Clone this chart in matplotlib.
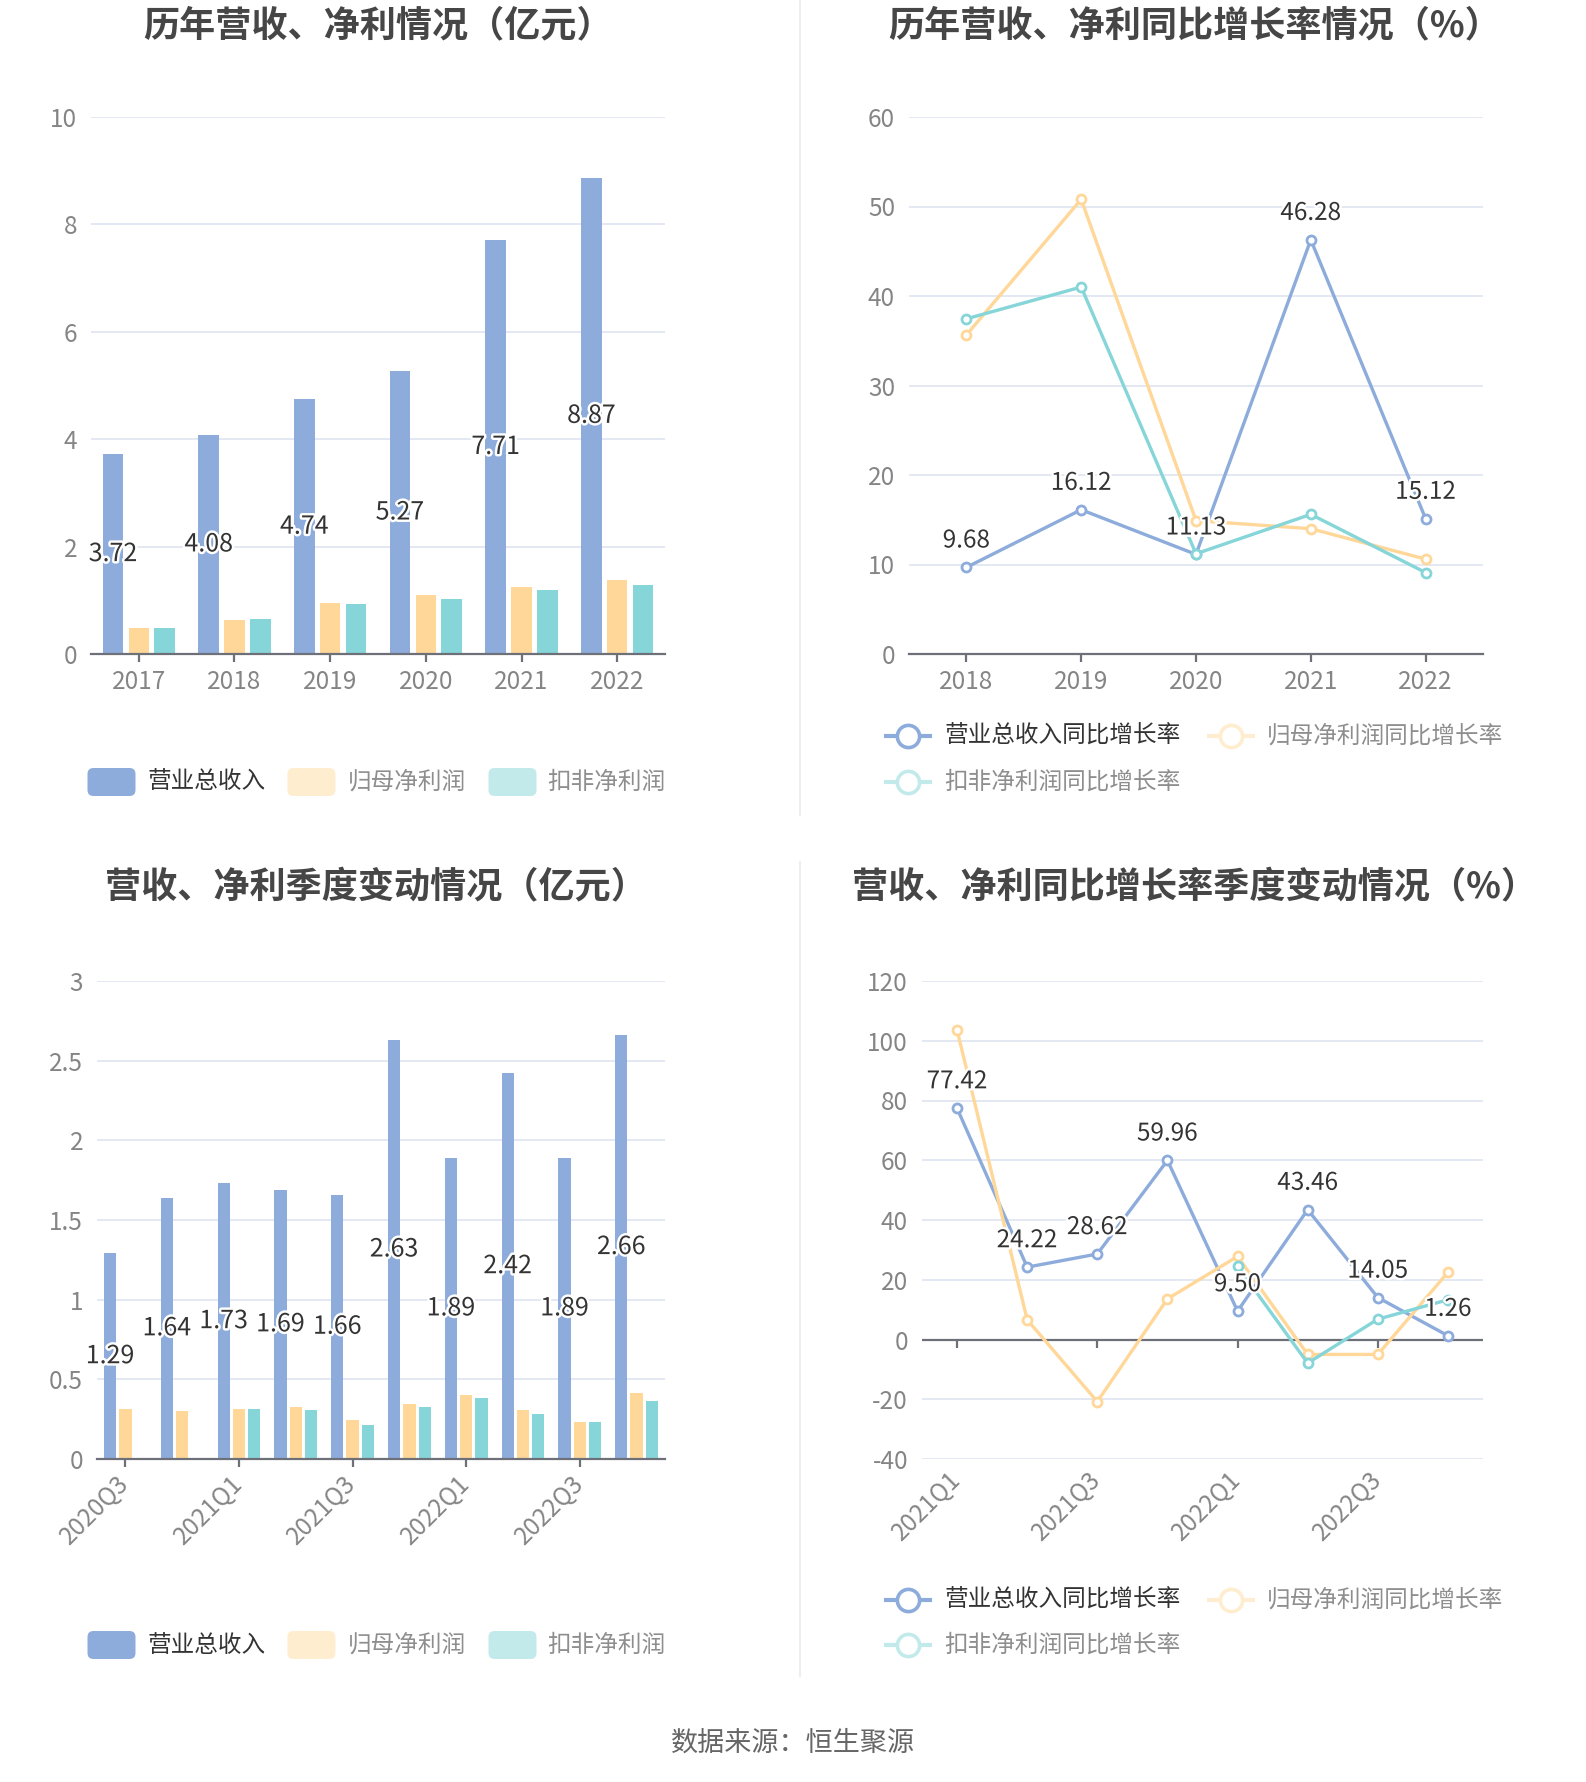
import matplotlib
matplotlib.use('Agg')
import matplotlib.pyplot as plt
import numpy as np
from matplotlib.patches import FancyBboxPatch
import matplotlib.patheffects as pe

plt.rcParams['font.family'] = ['Noto Sans CJK SC', 'DejaVu Sans']
plt.rcParams['axes.unicode_minus'] = False

# ---------------- data ----------------
years = ['2017', '2018', '2019', '2020', '2021', '2022']
rev = [3.72, 4.08, 4.74, 5.27, 7.71, 8.87]
parent_np = [0.48, 0.635, 0.955, 1.09, 1.245, 1.375]
deduct_np = [0.48, 0.65, 0.925, 1.02, 1.185, 1.29]

yoy_years = ['2018', '2019', '2020', '2021', '2022']
rev_yoy = [9.68, 16.12, 11.13, 46.28, 15.12]
parent_yoy = [35.65, 50.8, 14.9, 14.0, 10.6]
deduct_yoy = [37.45, 41.0, 11.2, 15.6, 9.1]

quarters = ['2020Q3', '2020Q4', '2021Q1', '2021Q2', '2021Q3',
            '2021Q4', '2022Q1', '2022Q2', '2022Q3', '2022Q4']
q_rev = [1.29, 1.64, 1.73, 1.69, 1.66, 2.63, 1.89, 2.42, 1.89, 2.66]
q_parent = [0.314, 0.303, 0.314, 0.324, 0.245, 0.343, 0.404, 0.305, 0.234, 0.414]
q_deduct = [np.nan, np.nan, 0.314, 0.305, 0.213, 0.324, 0.383, 0.285, 0.234, 0.364]

yoy_quarters = ['2021Q1', '2021Q2', '2021Q3', '2021Q4',
                '2022Q1', '2022Q2', '2022Q3', '2022Q4']
q_rev_yoy = [77.42, 24.22, 28.62, 59.96, 9.50, 43.46, 14.05, 1.26]
q_parent_yoy = [103.6, 6.6, -20.8, 13.6, 27.8, -5.0, -5.0, 22.5]
q_deduct_yoy = [np.nan, np.nan, np.nan, np.nan, 24.5, -7.9, 6.8, 13.3]

bar_names = ['营业总收入', '归母净利润', '扣非净利润']
line_names = ['营业总收入同比增长率', '归母净利润同比增长率', '扣非净利润同比增长率']

titles = ['历年营收、净利情况（亿元）', '历年营收、净利同比增长率情况（%）',
          '营收、净利季度变动情况（亿元）', '营收、净利同比增长率季度变动情况（%）']
source = '数据来源：恒生聚源'

# ---------------- style ----------------
BLUE = '#8DACDB'
ORANGE = '#FFD799'
TEAL = '#86D5D8'
ORANGE_L = '#FFEDD0'
TEAL_L = '#C3EAEB'
GRID = '#E0E6F1'
AXIS = '#6E7079'
TICK_C = '#858585'
LABEL_C = '#333333'
TICK_FS = 17.5

W, H = 1586, 1782
fig = plt.figure(figsize=(W / 100, H / 100), dpi=100)
fig.patch.set_facecolor('white')


def px_rect(x0, y0, x1, y1):
    return [x0 / W, 1 - y1 / H, (x1 - x0) / W, (y1 - y0) / H]


halo = [pe.withStroke(linewidth=3.5, foreground='white')]


def style_axis(ax, ylim, yticks, fmt):
    ax.set_ylim(*ylim)
    ax.set_yticks(yticks)
    ax.set_yticklabels([fmt(v) for v in yticks])
    for s in ['left', 'top', 'right']:
        ax.spines[s].set_visible(False)
    ax.spines['bottom'].set_color(AXIS)
    ax.spines['bottom'].set_linewidth(1.6)
    ax.yaxis.grid(True, color=GRID, lw=1.3)
    ax.set_axisbelow(True)
    ax.tick_params(axis='y', length=0, pad=10, labelsize=TICK_FS, labelcolor=TICK_C)
    ax.tick_params(axis='x', length=6, width=1.6, color=AXIS, pad=5,
                   labelsize=TICK_FS, labelcolor=TICK_C)


def bar_chart(ax, cats, s1, s2, s3, ylim, yticks, fmt, label_every, rotate):
    x = np.arange(len(cats))
    w, step = 0.216, 0.27
    ax.bar(x - step, s1, w, color=BLUE, zorder=2)
    ax.bar(x, s2, w, color=ORANGE, zorder=2)
    ax.bar(x + step, s3, w, color=TEAL, zorder=2)
    for xi, v in zip(x, s1):
        ax.text(xi - step, v / 2, f'{v:.2f}', ha='center', va='center',
                fontsize=18, color=LABEL_C, path_effects=halo, zorder=5)
    ax.set_xlim(-0.5, len(cats) - 0.5)
    style_axis(ax, ylim, yticks, fmt)
    tick_idx = x[::label_every]
    ax.set_xticks(tick_idx)
    if rotate:
        ax.set_xticklabels([cats[i] for i in tick_idx], rotation=45,
                           ha='right', va='center', rotation_mode='anchor')
        ax.tick_params(axis='x', pad=9)
    else:
        ax.set_xticklabels([cats[i] for i in tick_idx])


def line_chart(ax, cats, s1, s2, s3, ylim, yticks, fmt, label_every, rotate, zero_axis):
    x = np.arange(len(cats))
    for s, c in [(s1, BLUE), (s2, ORANGE), (s3, TEAL)]:
        ax.plot(x, s, color=c, lw=2.4, marker='o', markersize=6.5,
                markerfacecolor='white', markeredgecolor=c, markeredgewidth=2,
                zorder=3)
    for xi, v in zip(x, s1):
        ax.annotate(f'{v:.2f}', (xi, v), xytext=(0, 10), textcoords='offset points',
                    ha='center', va='bottom', fontsize=17.5, color=LABEL_C,
                    path_effects=halo, zorder=6)
    ax.set_xlim(-0.5, len(cats) - 0.5)
    style_axis(ax, ylim, yticks, fmt)
    tick_idx = x[::label_every]
    ax.set_xticks(tick_idx)
    if rotate:
        ax.set_xticklabels([cats[i] for i in tick_idx], rotation=45,
                           ha='right', va='center', rotation_mode='anchor')
    else:
        ax.set_xticklabels([cats[i] for i in tick_idx])
    if zero_axis:
        ax.spines['bottom'].set_visible(False)
        ax.tick_params(axis='x', length=0, pad=12)
        ax.axhline(0, color=AXIS, lw=1.6, zorder=2)
        frac = (0 - ylim[0]) / (ylim[1] - ylim[0])
        sec = ax.secondary_xaxis(frac)
        sec.set_xticks(tick_idx)
        sec.set_xticklabels([''] * len(tick_idx))
        sec.spines['bottom'].set_visible(False)
        sec.tick_params(axis='x', length=6, width=1.6, color=AXIS)


fmt_int = lambda v: f'{v:g}'

ax1 = fig.add_axes(px_rect(91, 117, 665, 654))
bar_chart(ax1, years, rev, parent_np, deduct_np, (0, 10), [0, 2, 4, 6, 8, 10],
          fmt_int, 1, False)

ax2 = fig.add_axes(px_rect(909, 117, 1483, 654))
line_chart(ax2, yoy_years, rev_yoy, parent_yoy, deduct_yoy, (0, 60),
           [0, 10, 20, 30, 40, 50, 60], fmt_int, 1, False, False)

ax3 = fig.add_axes(px_rect(97, 981, 665, 1459))
bar_chart(ax3, quarters, q_rev, q_parent, q_deduct, (0, 3),
          [0, 0.5, 1, 1.5, 2, 2.5, 3], fmt_int, 2, True)

ax4 = fig.add_axes(px_rect(922, 981, 1483, 1459))
line_chart(ax4, yoy_quarters, q_rev_yoy, q_parent_yoy, q_deduct_yoy, (-40, 120),
           [-40, -20, 0, 20, 40, 60, 80, 100, 120], fmt_int, 2, True, True)

# ---------------- overlay (titles, legends, dividers) ----------------
ov = fig.add_axes([0, 0, 1, 1], zorder=10)
ov.set_xlim(0, W)
ov.set_ylim(H, 0)
ov.axis('off')

title_kw = dict(ha='center', va='center', fontsize=26, fontweight='bold', color='#464646')
ov.text(378, 26, titles[0], **title_kw)
ov.text(1195, 26, titles[1], **title_kw)
ov.text(376, 888, titles[2], **title_kw)
ov.text(1195, 888, titles[3], **title_kw)

ov.plot([800, 800], [0, 815], color='#EEEEEE', lw=1.5)
ov.plot([800, 800], [862, 1676], color='#EEEEEE', lw=1.5)

ov.text(793, 1743, source, ha='center', va='center', fontsize=19.5, color='#666666')


def bar_legend(yc):
    items = [(87.5, 147.7, BLUE, '#333333'), (287.4, 347.6, ORANGE_L, '#8E8E8E'),
             (488.5, 547.6, TEAL_L, '#8E8E8E')]
    for (px, tx, c, tc), name in zip(items, bar_names):
        ov.add_patch(FancyBboxPatch((px, yc - 14), 48, 28,
                                    boxstyle='round,pad=0,rounding_size=6',
                                    fc=c, ec='none'))
        ov.text(tx, yc, name, ha='left', va='center', fontsize=17, color=tc)


def line_legend(y1, y2):
    items = [(908, 944, y1, BLUE, '#333333'), (1230.5, 1267, y1, ORANGE_L, '#8E8E8E'),
             (908, 944, y2, TEAL_L, '#8E8E8E')]
    for (cx, tx, yc, c, tc), name in zip(items, line_names):
        ov.plot([cx - 24, cx + 24], [yc, yc], color=c, lw=3, solid_capstyle='butt')
        ov.plot([cx], [yc], marker='o', markersize=16, markerfacecolor='white',
                markeredgecolor=c, markeredgewidth=2.6)
        ov.text(tx, yc, name, ha='left', va='center', fontsize=17, color=tc)


bar_legend(782)
bar_legend(1645)
line_legend(736, 782)
line_legend(1600, 1645)

fig.savefig('out.png', dpi=100, facecolor='white')
